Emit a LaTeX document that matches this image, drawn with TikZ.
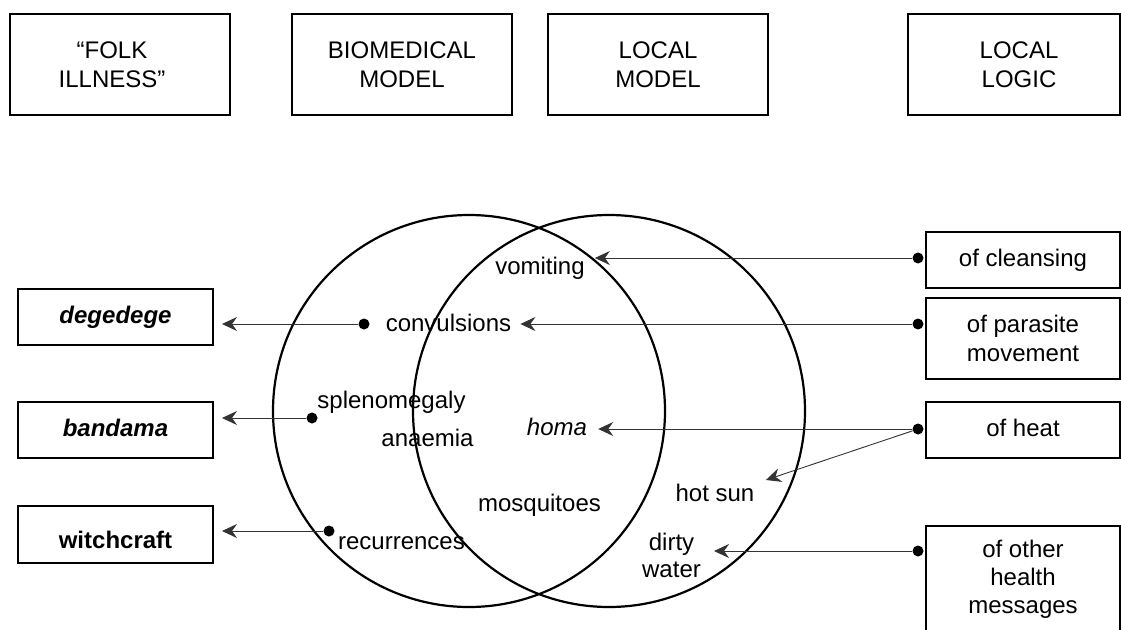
\documentclass[tikz,border=0pt]{standalone}
\usepackage{fontspec}
\setmainfont{Liberation Sans}
\usetikzlibrary{arrows.meta}
\begin{document}
\begin{tikzpicture}[x=1pt,y=-1pt,
  every node/.style={inner sep=0pt, font=\fontsize{24}{29}\selectfont},
  one/.style={text height=17pt, text depth=5pt},
  hdr/.style={draw, line width=2pt, minimum width=220pt, minimum height=101pt, align=center},
  lbox/.style={draw, line width=2pt, minimum width=195pt, align=center, one},
  rbox/.style={draw, line width=2pt, minimum width=194pt, align=center},
  term/.style={align=center},
  dotnode/.style={circle, fill=black, minimum size=11pt},
  ring/.style={circle, draw, line width=2.2pt, minimum size=392pt},
  arr/.style={draw=black!80, line width=0.9pt, -{Stealth[length=15pt,width=14pt,inset=5pt]}}
]
\useasboundingbox (0,0) rectangle (1121,629);
\clip (0,0) rectangle (1121,629);

% header boxes
\node[hdr] (folk) at (120,64.5) {“FOLK\kern16pt\\ILLNESS”\kern16pt};
\node[hdr] (bio) at (402,64.5) {BIOMEDICAL\\MODEL};
\node[hdr] (lmodel) at (658,64.5) {LOCAL\\MODEL};
\node[hdr, minimum width=212pt] (llogic) at (1014,64.5) {\kern10pt LOCAL\\\kern10pt LOGIC};

% circles
\node[ring] (biocircle) at (469,411) {};
\node[ring] (localcircle) at (609,411) {};

% left boxes
\node[lbox, minimum height=56pt] (degedege) at (115.5,317) {\textbf{\textit{degedege}}};
\node[lbox, minimum height=56pt] (bandama) at (115.5,430) {\textbf{\textit{bandama}}};
\node[lbox, minimum height=57pt] (witchcraft) at (115.5,534.5) {\raisebox{-8pt}{\textbf{witchcraft}}};

% right boxes
\node[rbox, one, minimum height=56pt] (cleansing) at (1023,260) {of cleansing};
\node[rbox, minimum height=81pt] (parasite) at (1023,338.5) {of parasite\\movement};
\node[rbox, one, minimum height=56pt] (heat) at (1023,430) {of heat};
\node[rbox, minimum height=107pt, font=\fontsize{24}{28}\selectfont] (other) at (1023,579.5) {of other\\health\\messages};

% terms in circles
\node[term, one] (vomiting) at (540,268) {vomiting};
\node[term, one] (convulsions) at (448.5,325) {convulsions};
\node[term, one] (splenomegaly) at (391.5,402) {splenomegaly};
\node[term, one] (anaemia) at (427.5,440) {anaemia};
\node[term, one] (homa) at (557,429) {\textit{homa}};
\node[term, one] (mosquitoes) at (539.5,505) {mosquitoes};
\node[term, one] (hotsun) at (715,495) {hot sun};
\node[term, font=\fontsize{24}{27}\selectfont] (dirtywater) at (671.5,555) {dirty\\water};
\node[term, one] (recurrences) at (401.5,543) {recurrences};

% dots
\node[dotnode] (dclean) at (918,258) {};
\node[dotnode] (dpar) at (918,324) {};
\node[dotnode] (dheat) at (918,429) {};
\node[dotnode] (dother) at (918,551) {};
\node[dotnode] (dconv) at (364,324) {};
\node[dotnode] (dspleno) at (312,418) {};
\node[dotnode] (drecur) at (329,531) {};

% connectors
\draw[arr, shorten >=10pt] (dclean) -- (dclean -| vomiting.east);
\draw[arr, shorten >=9pt] (dpar) -- (dpar -| convulsions.east);
\draw[arr, shorten >=11pt] (dheat) -- (dheat -| homa.east);
\draw[arr, shorten >=12pt] (dheat) -- (hotsun.north east);
\draw[arr, shorten >=13pt] (dother) -- (dother -| dirtywater.east);
\draw[arr, shorten >=8pt] (dconv) -- (dconv -| degedege.east);
\draw[arr, shorten >=8pt] (dspleno) -- (dspleno -| bandama.east);
\draw[arr, shorten >=8pt] (drecur) -- (drecur -| witchcraft.east);
\end{tikzpicture}
\end{document}
